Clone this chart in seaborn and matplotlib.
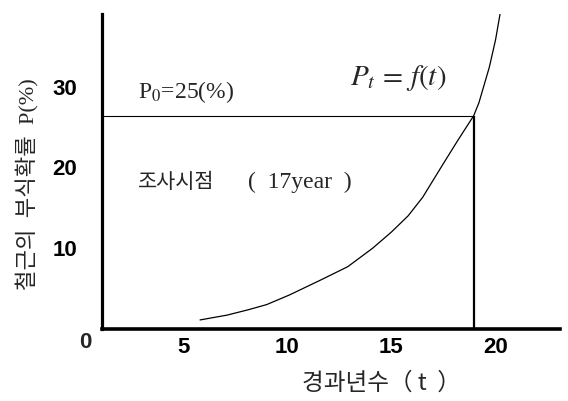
import matplotlib
matplotlib.use("Agg")
import matplotlib.pyplot as plt
import seaborn as sns
import pandas as pd

# ---- data ----
years = [5.8, 7.1, 8.1, 9.0, 10.1, 11.6, 12.9, 14.1, 15.0, 15.8, 16.5, 17.5, 18.2, 18.95, 19.2, 19.7, 20.0, 20.25]
prob = [1.1, 1.7, 2.35, 3.0, 4.2, 6.05, 7.7, 10.0, 12.0, 14.0, 16.3, 20.5, 23.4, 26.4, 28.0, 32.4, 35.8, 39.5]
t_survey = 18.95     # where the curve reaches the P0 line
p_level = 26.4       # P0 line as drawn
x_ticks = [5, 10, 15, 20]
y_ticks = [10, 20, 30]

df = pd.DataFrame({"t": years, "P": prob})

sns.set_style("white")
plt.rcParams["mathtext.fontset"] = "stix"
kr_serif = ["Liberation Serif", "Noto Sans CJK KR"]
kr_sans = ["Noto Sans CJK KR", "DejaVu Sans"]

fig = plt.figure(figsize=(5.68, 4.01), dpi=100)
ax = fig.add_axes([0.18, 0.18, 0.806, 0.785])

# curve P_t = f(t)
sns.lineplot(data=df, x="t", y="P", color="black", linewidth=0.9, ax=ax, legend=False)

# P0 level and survey time lines
ax.hlines(p_level, 1.1, t_survey, color="black", linewidth=0.8)
ax.vlines(t_survey, 0, p_level, color="black", linewidth=1.6)

ax.set_xlim(1.1, 23.1)
ax.set_ylim(0, 39)

# axes: thick left/bottom, nothing on top/right
for s in ["top", "right"]:
    ax.spines[s].set_visible(False)
ax.spines["left"].set_linewidth(2.3)
ax.spines["bottom"].set_linewidth(2.6)
ax.spines["left"].set_color("black")
ax.spines["bottom"].set_color("black")

ax.set_xticks(x_ticks)
ax.set_yticks(y_ticks)
ax.set_xticklabels([str(v) for v in x_ticks])
ax.set_yticklabels([str(v) for v in y_ticks])
ax.tick_params(axis="x", direction="in", length=5, width=1, pad=6, labelsize=16, colors="black")
ax.tick_params(axis="y", direction="in", length=5, width=0.8, pad=18, labelsize=16, colors="black")
for lab in ax.get_xticklabels() + ax.get_yticklabels():
    lab.set_fontweight("bold")
    lab.set_family("Liberation Sans")

# origin label
ax.annotate("0", xy=(0, 0), xycoords="axes fraction", xytext=(-12, -9.5),
            textcoords="offset points", ha="center", va="center",
            fontsize=16, fontweight="bold", family="Liberation Sans")

ax.set_xlabel("경과년수（ t  ）", fontsize=17, family=kr_sans)
ax.set_ylabel("철근의  부식확률  P(%)", fontsize=16, family=kr_serif)
ax.xaxis.set_label_coords(0.61, -0.135)
ax.yaxis.set_label_coords(-0.138, 0.46)

# annotations
ax.text(2.8, 29.3, r"P$_0$=25(%)", fontsize=17, family=kr_serif, ha="left", va="center")
ax.text(13.0, 31.1, r"$P_t\,=\,f(t)$", fontsize=21, ha="left", va="center")
ax.text(2.8, 18.2, "조사시점", fontsize=15, family=kr_sans, ha="left", va="center")
ax.text(8.1, 18.2, "(  17year  )", fontsize=17, family=kr_serif, ha="left", va="center")

plt.savefig("out.png", dpi=100)
